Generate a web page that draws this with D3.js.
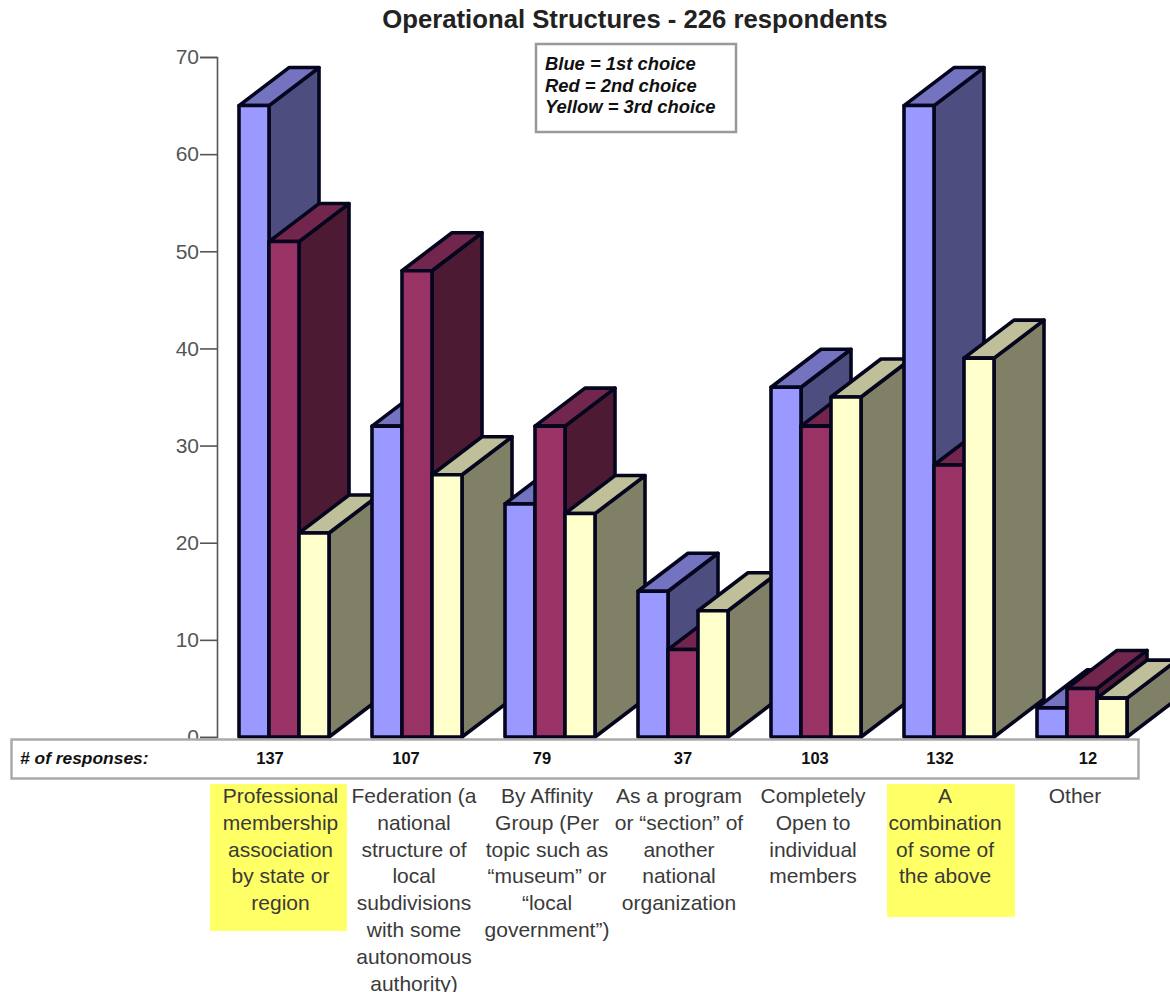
<!DOCTYPE html>
<html>
<head>
<meta charset="utf-8">
<script src="https://cdn.jsdelivr.net/npm/d3@7/dist/d3.min.js"></script>
<style>
  html, body { margin: 0; padding: 0; background: #fff; overflow: hidden; }
  svg { display: block; font-family: "Liberation Sans", Arial, sans-serif; }
</style>
</head>
<body>
<svg id="chart" width="1170" height="992"></svg>
<script>
// Survey results: ranked choices per operational structure
const categories = [
  ["Professional", "membership", "association", "by state or", "region"],
  ["Federation (a", "national", "structure of", "local", "subdivisions", "with some", "autonomous", "authority)"],
  ["By Affinity", "Group (Per", "topic such as", "“museum” or", "“local", "government”)"],
  ["As a program", "or “section” of", "another", "national", "organization"],
  ["Completely", "Open to", "individual", "members"],
  ["A", "combination", "of some of", "the above"],
  ["Other"]
];
const firstChoice  = [65, 32, 24, 15, 36, 65, 3];
const secondChoice = [51, 48, 32, 9, 32, 28, 5];
const thirdChoice  = [21, 27, 23, 13, 35, 39, 4];
const responses    = [137, 107, 79, 37, 103, 132, 12];
const yTicks = [0, 10, 20, 30, 40, 50, 60, 70];
const legendLines = ["Blue = 1st choice", "Red = 2nd choice", "Yellow = 3rd choice"];
const highlighted = [0, 5];

const faces = [
  { front: "#9999ff", top: "#7373c0", side: "#4d4d80" },
  { front: "#993366", top: "#73264d", side: "#4d1a33" },
  { front: "#ffffcc", top: "#bfbf99", side: "#808066" }
];
const seriesValues = [firstChoice, secondChoice, thirdChoice];

const svg = d3.select("#chart");
const y = d3.scaleLinear().domain([0, 70]).range([737, 57]);
const x = d3.scaleBand().domain(d3.range(categories.length)).range([239, 1127]).paddingInner(43 / 133);
const inner = d3.scaleBand().domain([0, 1, 2]).range([0, x.bandwidth()]);
const depthX = 50, depthY = 38;

// Title
svg.append("text").attr("x", 635).attr("y", 28).attr("text-anchor", "middle")
  .attr("font-size", 25.7).attr("font-weight", "bold").attr("fill", "#222")
  .text("Operational Structures - 226 respondents");

// Value axis
const axis = svg.append("g").attr("transform", "translate(217,0)")
  .call(d3.axisLeft(y).tickValues(yTicks).tickSize(17).tickPadding(0));
axis.selectAll("path, line").attr("stroke", "#555").attr("stroke-width", 1.6);
axis.selectAll("text").attr("font-size", 21).attr("fill", "#555").attr("x", -18).attr("font-family", "\"Liberation Sans\", Arial, sans-serif");

// Extruded bars, painted left to right so nearer boxes cover the previous ones
const bars = svg.append("g").attr("stroke", "#05051e").attr("stroke-width", 3.6).attr("stroke-linejoin", "round");
categories.forEach((_, i) => {
  seriesValues.forEach((values, s) => {
    const x0 = x(i) + inner(s), x1 = x0 + inner.bandwidth();
    const yt = y(values[i]), yb = y(0);
    const g = bars.append("g");
    g.append("path").attr("fill", faces[s].side)
      .attr("d", d3.line()([[x1, yt], [x1 + depthX, yt - depthY], [x1 + depthX, yb - depthY], [x1, yb]]) + "Z");
    g.append("path").attr("fill", faces[s].top)
      .attr("d", d3.line()([[x0, yt], [x0 + depthX, yt - depthY], [x1 + depthX, yt - depthY], [x1, yt]]) + "Z");
    g.append("rect").attr("x", x0).attr("y", yt).attr("width", x1 - x0).attr("height", yb - yt)
      .attr("fill", faces[s].front);
  });
});

// Legend note
svg.append("rect").attr("x", 536).attr("y", 44).attr("width", 200).attr("height", 88)
  .attr("fill", "#fff").attr("stroke", "#999").attr("stroke-width", 2.5);
svg.append("g").selectAll("text").data(legendLines).join("text")
  .attr("x", 545).attr("y", (d, i) => 70 + i * 21.5)
  .attr("font-size", 18.4).attr("font-weight", "bold").attr("font-style", "italic").attr("fill", "#111")
  .text(d => d);

// Response count strip
svg.append("rect").attr("x", 11.5).attr("y", 739.5).attr("width", 1127).attr("height", 39)
  .attr("fill", "#fff").attr("stroke", "#aaa").attr("stroke-width", 2.5);
svg.append("text").attr("x", 20).attr("y", 764)
  .attr("font-size", 17.4).attr("font-weight", "bold").attr("font-style", "italic").attr("fill", "#111")
  .text("# of responses:");
const countX = d3.scaleOrdinal().domain(d3.range(7)).range([270, 406, 542, 683, 815, 940, 1088]);
svg.append("g").selectAll("text").data(responses).join("text")
  .attr("x", (d, i) => countX(i)).attr("y", 764).attr("text-anchor", "middle")
  .attr("font-size", 16.5).attr("font-weight", "bold").attr("fill", "#111")
  .text(d => d);

// Category captions with their highlight blocks
const captionX = d3.scaleOrdinal().domain(d3.range(7)).range([280.5, 414, 547, 679, 813, 945, 1075]);
const highlightBox = d3.scaleOrdinal().domain(highlighted).range([[210, 137, 147], [887, 128, 133]]);
highlighted.forEach(i => {
  const [hx, hw, hh] = highlightBox(i);
  svg.append("rect").attr("x", hx).attr("y", 784).attr("width", hw).attr("height", hh).attr("fill", "#ffff66");
});
categories.forEach((lines, i) => {
  svg.append("g").selectAll("text").data(lines).join("text")
    .attr("x", captionX(i)).attr("y", (d, k) => 803 + k * 26.8)
    .attr("text-anchor", "middle").attr("font-size", 21).attr("fill", "#3a3a3a")
    .text(d => d);
});
</script>
</body>
</html>
